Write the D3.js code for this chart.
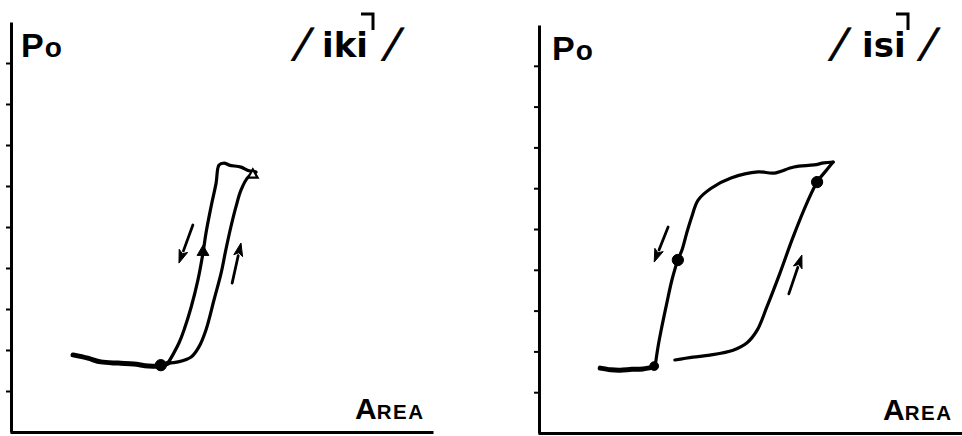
<!DOCTYPE html>
<html>
<head>
<meta charset="utf-8">
<script src="https://cdn.jsdelivr.net/npm/d3@7"></script>
<style>
  html, body { margin: 0; padding: 0; background: #fff; }
  svg { display: block; }
</style>
</head>
<body>
<svg id="chart" width="962" height="436"></svg>
<script>
// ---- data (x: area units 0-100, y: Po units 0-10) ----
const yTicks = [1, 2, 3, 4, 5, 6, 7, 8, 9];
const yLabel = ["P", "o"];
const xLabel = ["A", "REA"];
const words = ["iki", "isi"];

// /iki/ trace
const ikiFlat = [[14.7,1.88],[18.2,1.80],[21.3,1.71],[25.4,1.68],[29.1,1.66],[32.5,1.61],[35.5,1.61],[37.2,1.68]];
const ikiLoop = [
  [37.2,1.68],[39.6,1.71],[42.7,1.83],[44.5,2.07],[46.2,2.49],[48.1,3.22],[49.8,3.88],[50.9,4.44],
  [52.1,5.00],[53.3,5.49],[54.5,5.90],[56.2,6.22],[58.1,6.34],
  [56.4,6.37],[54.5,6.46],[51.7,6.51],[50.5,6.56],[49.3,6.51],
  [48.6,6.07],[47.4,5.49],[46.2,4.85],[45.5,4.37],[44.3,3.71],[42.7,3.05],[41.0,2.49],[39.8,2.17],
  [38.6,1.93],[37.2,1.68]
];
const ikiMarkers = [
  { x: 57.3, y: 6.27, shape: "triangle", filled: false },
  { x: 45.5, y: 4.39, shape: "triangle", filled: true },
  { x: 35.5, y: 1.63, shape: "circle", filled: true }
];
const ikiArrows = [
  { from: [43.1, 5.05], to: [39.8, 4.12] },
  { from: [52.4, 3.63], to: [54.5, 4.61] }
];

// /isi/ trace
const isiFlat = [[14.5,1.59],[17.0,1.55],[19.2,1.54],[22.0,1.56],[24.6,1.57],[27.5,1.62]];
const isiLoad = [
  [32.2,1.79],[36.5,1.86],[40.5,1.91],[46.0,2.03],[49.3,2.21],[51.7,2.52],[54.0,3.09],[57.1,3.92],
  [60.2,4.80],[63.5,5.64],[65.9,6.15],[68.2,6.45],[69.7,6.64]
];
const isiUnload = [
  [69.7,6.64],[67.5,6.62],[65.2,6.57],[60.4,6.52],[55.7,6.37],[51.9,6.40],[45.5,6.25],[40.8,6.00],
  [37.7,5.71],[36.2,5.30],[35.0,4.90],[33.9,4.49],[32.9,4.24],[31.5,3.75],[30.3,3.19],[29.1,2.60],
  [28.2,2.11],[27.5,1.62]
];
const isiMarkers = [
  { x: 65.9, y: 6.15, shape: "circle", filled: true },
  { x: 32.9, y: 4.24, shape: "circle", filled: true },
  { x: 27.3, y: 1.64, shape: "circle", filled: true, small: true }
];
const isiArrows = [
  { from: [30.6, 5.05], to: [27.3, 4.19] },
  { from: [59.2, 3.41], to: [62.3, 4.36] }
];

// ---- layout ----
// title: centres of the two slashes, start of the word, right edge of the pitch mark
const panels = [
  { ox: 11, oy: 432, top: 22, right: 433, poX: 10,
    title: { s1: 288, word: 311, mark: 362, s2: 378 },
    flat: ikiFlat, paths: [ikiLoop], markers: ikiMarkers, arrows: ikiArrows, word: words[0] },
  { ox: 539, oy: 433, top: 25, right: 962, poX: 13,
    title: { s1: 297, word: 323, mark: 369, s2: 386 },
    flat: isiFlat, paths: [isiLoad, isiUnload], markers: isiMarkers, arrows: isiArrows, word: words[1] }
];

const svg = d3.select("#chart");
const SANS = "'Liberation Sans', Arial, sans-serif";
const TITLE_FONT = "'DejaVu Sans', 'Liberation Sans', sans-serif";

panels.forEach(p => {
  const x = d3.scaleLinear().domain([0, 100]).range([p.ox, p.ox + 422]);
  const y = d3.scaleLinear().domain([0, 10]).range([p.oy, p.top]);
  const g = svg.append("g");

  // vertical axis with small outward ticks
  const yAxis = g.append("g")
    .attr("transform", `translate(${p.ox},0)`)
    .call(d3.axisLeft(y).tickValues(yTicks).tickSize(5).tickSizeOuter(0).tickFormat(""));
  yAxis.select(".domain").attr("stroke", "#000").attr("stroke-width", 3);
  yAxis.selectAll(".tick line").attr("stroke", "#000").attr("stroke-width", 2);

  // horizontal axis
  const xAxis = g.append("g")
    .attr("transform", `translate(0,${p.oy})`)
    .call(d3.axisBottom(x.copy().range([p.ox - 1, p.right])).tickValues([]).tickSizeOuter(0));
  xAxis.select(".domain").attr("stroke", "#000").attr("stroke-width", 3);

  const line = d3.line().x(d => x(d[0])).y(d => y(d[1])).curve(d3.curveCatmullRom.alpha(0.5));

  // resting baseline trace (heavier)
  g.append("path").attr("d", line(p.flat))
    .attr("fill", "none").attr("stroke", "#000").attr("stroke-width", 5)
    .attr("stroke-linecap", "round").attr("stroke-linejoin", "round");

  // hysteresis loop
  p.paths.forEach(pts => {
    g.append("path").attr("d", line(pts))
      .attr("fill", "none").attr("stroke", "#000").attr("stroke-width", 3.2)
      .attr("stroke-linecap", "round").attr("stroke-linejoin", "round");
  });

  // direction arrows
  p.arrows.forEach(a => {
    const x1 = x(a.from[0]), y1 = y(a.from[1]), x2 = x(a.to[0]), y2 = y(a.to[1]);
    const ang = Math.atan2(y2 - y1, x2 - x1);
    const L = 13, W = 4.5;
    const bx = x2 - L * Math.cos(ang), by = y2 - L * Math.sin(ang);
    g.append("line").attr("x1", x1).attr("y1", y1).attr("x2", bx).attr("y2", by)
      .attr("stroke", "#000").attr("stroke-width", 2.8).attr("stroke-linecap", "round");
    const pts = [
      [x2, y2],
      [bx + W * Math.sin(ang), by - W * Math.cos(ang)],
      [bx + 3 * Math.cos(ang), by + 3 * Math.sin(ang)],
      [bx - W * Math.sin(ang), by + W * Math.cos(ang)]
    ];
    g.append("polygon").attr("points", pts.map(q => q.join(",")).join(" "))
      .attr("fill", "#000").attr("stroke", "#000").attr("stroke-width", 1).attr("stroke-linejoin", "round");
  });

  // markers
  p.markers.forEach(m => {
    const type = m.shape === "triangle" ? d3.symbolTriangle : d3.symbolCircle;
    const size = m.shape === "triangle" ? (m.filled ? 60 : 40) : (m.small ? 60 : 100);
    g.append("path")
      .attr("d", d3.symbol().type(type).size(size)())
      .attr("transform", `translate(${x(m.x)},${y(m.y)})`)
      .attr("fill", m.filled ? "#000" : "#fff")
      .attr("stroke", "#000").attr("stroke-width", m.filled ? 1 : 2.2);
  });

  // axis labels
  g.append("text").attr("x", p.ox + p.poX).attr("y", p.top + 35)
    .attr("font-family", SANS).attr("font-weight", "bold").attr("font-size", 34).attr("fill", "#000")
    .call(t => {
      t.append("tspan").text(yLabel[0]);
      t.append("tspan").attr("font-size", 28).attr("dx", 1).text(yLabel[1]);
    });

  g.append("text").attr("x", p.ox + 344).attr("y", p.oy - 13)
    .attr("font-family", SANS).attr("font-weight", "bold").attr("font-size", 30).attr("fill", "#000")
    .call(t => {
      t.append("tspan").text(xLabel[0]);
      t.append("tspan").attr("font-size", 20.5).attr("letter-spacing", 1.5).text(xLabel[1]);
    });

  // phonemic title: slanted slashes around the word, with a pitch-fall mark
  const base = 57;
  [p.title.s1, p.title.s2].forEach(cx => {
    g.append("text")
      .attr("transform", `translate(${p.ox + cx},${base}) skewX(-16)`)
      .attr("text-anchor", "middle")
      .attr("font-family", TITLE_FONT).attr("font-size", 40).attr("fill", "#000")
      .attr("stroke", "#000").attr("stroke-width", 0.8)
      .text("/");
  });
  g.append("text").attr("x", p.ox + p.title.word).attr("y", 57)
    .attr("font-family", TITLE_FONT).attr("font-weight", "bold").attr("font-size", 34).attr("fill", "#000")
    .text(p.word);
  const mx = p.ox + p.title.mark;
  g.append("path")
    .attr("d", `M${mx - 12},14 H${mx} V30`)
    .attr("fill", "none").attr("stroke", "#000").attr("stroke-width", 3)
    .attr("stroke-linejoin", "miter");
});
</script>
</body>
</html>
